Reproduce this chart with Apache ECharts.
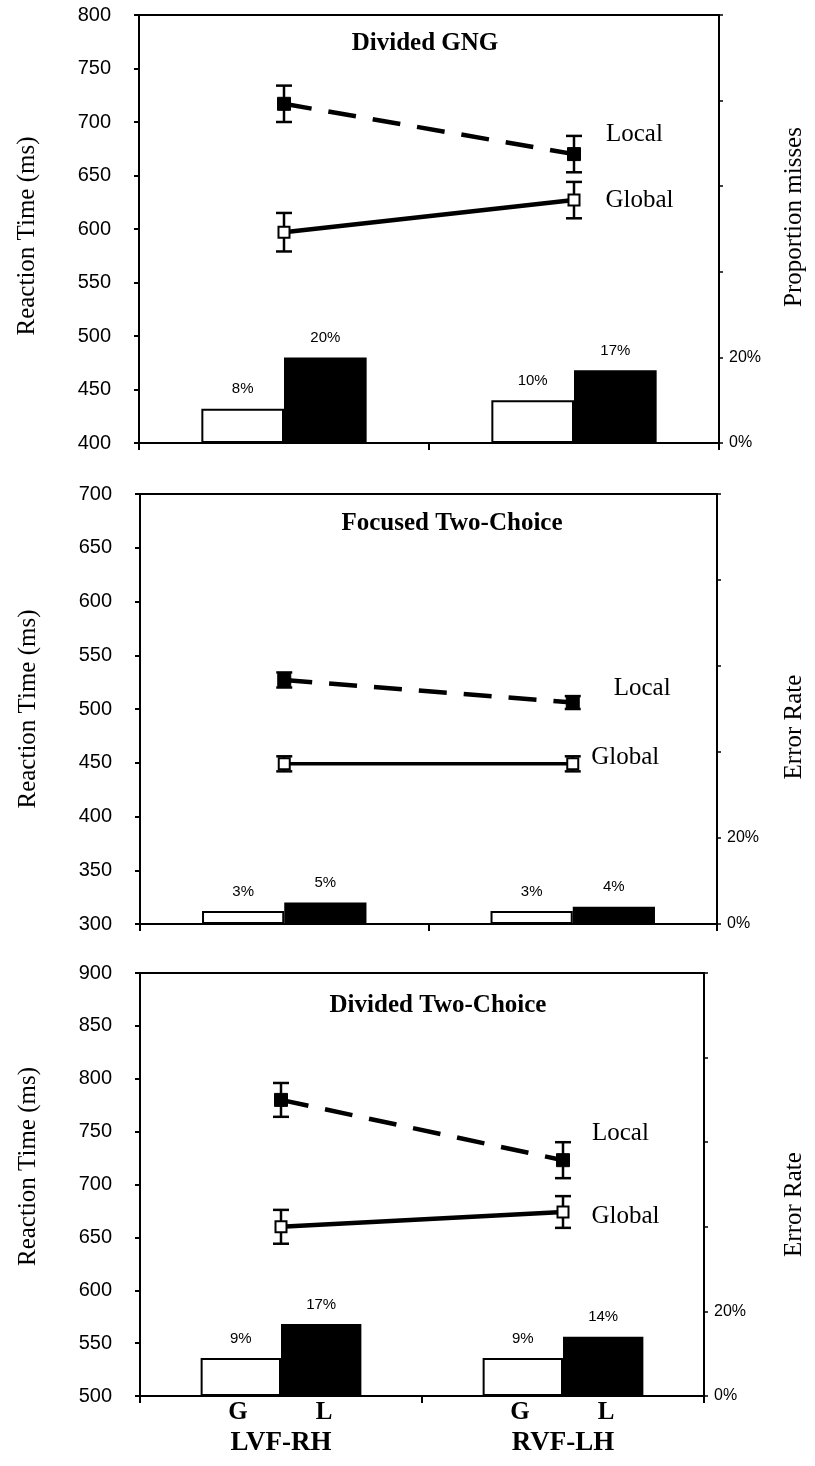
<!DOCTYPE html>
<html><head><meta charset="utf-8">
<script src="https://cdn.jsdelivr.net/npm/echarts@6/dist/echarts.min.js"></script>
<style>html,body{margin:0;padding:0;background:#fff}#c{width:815px;height:1466px}</style>
</head><body><div id="c"></div>
<script>
// ---------- data ----------
const panelTitles = ['Divided GNG', 'Focused Two-Choice', 'Divided Two-Choice'];
const categories = ['LVF-RH', 'RVF-LH'];
const levelLetters = ['G', 'L'];
const leftAxisName = 'Reaction Time (ms)';
const rightAxisNames = ['Proportion misses', 'Error Rate', 'Error Rate'];
const rtMin = [400, 300, 500];
const rtMax = [800, 700, 900];
const rtStep = 50;
const pctMax = 100;
const pctStep = 20;
const pctLabelled = [0, 20];
const seriesNames = ['Global', 'Local'];

// Divided GNG
const gngGlobalRT = [597, 627];
const gngGlobalSE = [18, 17];
const gngLocalRT = [717, 670];
const gngLocalSE = [17, 17];
const gngGlobalMiss = [8, 10];
const gngLocalMiss = [20, 17];
// Focused Two-Choice
const focGlobalRT = [449, 449];
const focGlobalSE = [7, 7];
const focLocalRT = [527, 506];
const focLocalSE = [7, 6];
const focGlobalErr = [3, 3];
const focLocalErr = [5, 4];
// Divided Two-Choice
const divGlobalRT = [660, 674];
const divGlobalSE = [16, 15];
const divLocalRT = [780, 723];
const divLocalSE = [16, 17];
const divGlobalErr = [9, 9];
const divLocalErr = [17, 14];

const panelData = [
  {gRT: gngGlobalRT, gSE: gngGlobalSE, lRT: gngLocalRT, lSE: gngLocalSE, gBar: gngGlobalMiss, lBar: gngLocalMiss},
  {gRT: focGlobalRT, gSE: focGlobalSE, lRT: focLocalRT, lSE: focLocalSE, gBar: focGlobalErr, lBar: focLocalErr},
  {gRT: divGlobalRT, gSE: divGlobalSE, lRT: divLocalRT, lSE: divLocalSE, gBar: divGlobalErr, lBar: divLocalErr}
];

// ---------- layout / style ----------
const SERIF = 'Liberation Serif';
const SANS = 'Liberation Sans';
const layout = [
  {left: 139, right: 93, top: 15, height: 428, titleX: 420, titleY: 26,
   lPad: [0, 14, 0, 0], rPad: [0, 0, 0, 24], rGap: 63,
   localLbl: {d: 25, dy: -20}, globalLbl: {d: 25, dy: 0}, solidW: 4.5},
  {left: 140, right: 88, top: 494, height: 430, titleX: 447, titleY: 506,
   lPad: [0, 0, 0, 0], rPad: [0, 36, 0, 0], rGap: 65,
   localLbl: {d: 34, dy: -14}, globalLbl: {d: 12, dy: -6}, solidW: 3.5},
  {left: 140, right: 101, top: 973, height: 423, titleX: 433, titleY: 988,
   lPad: [0, 0, 0, 36], rPad: [0, 40, 0, 0], rGap: 78,
   localLbl: {d: 22, dy: -27}, globalLbl: {d: 22, dy: 4}, solidW: 4.5}
];

function errRender(params, api) {
  const x = api.value(0), lo = api.value(1), hi = api.value(2);
  const a = api.coord([x, lo]), b = api.coord([x, hi]);
  const cap = 8;
  const st = {stroke: '#000', lineWidth: 2.5, fill: null};
  return {type: 'group', children: [
    {type: 'line', shape: {x1: a[0], y1: a[1], x2: b[0], y2: b[1]}, style: st},
    {type: 'line', shape: {x1: a[0] - cap, y1: a[1], x2: a[0] + cap, y2: a[1]}, style: st},
    {type: 'line', shape: {x1: b[0] - cap, y1: b[1], x2: b[0] + cap, y2: b[1]}, style: st}
  ]};
}

const grids = [], xAxes = [], yAxes = [], series = [], titles = [];
layout.forEach((L, i) => {
  const d = panelData[i];
  grids.push({left: L.left, right: L.right, top: L.top, height: L.height,
    show: true, borderColor: '#000', borderWidth: 2, backgroundColor: 'transparent', containLabel: false});
  titles.push({text: panelTitles[i], left: L.titleX, top: L.titleY, textAlign: 'center',
    textStyle: {fontFamily: SERIF, fontWeight: 'bold', fontSize: 25, color: '#000'}});
  const last = i === layout.length - 1;
  xAxes.push({type: 'category', gridIndex: i, data: categories, boundaryGap: true,
    axisLine: {show: true, lineStyle: {color: '#000', width: 2}},
    axisTick: {show: true, length: 7, lineStyle: {color: '#000', width: 2}},
    axisLabel: last ? {
      show: true, margin: 2, color: '#000',
      formatter: v => `{g|${levelLetters[0]}}{l|${levelLetters[1]}}\n{c|${v}}`,
      rich: {
        g: {width: 86, align: 'center', fontFamily: SERIF, fontWeight: 'bold', fontSize: 25, lineHeight: 30, color: '#000'},
        l: {width: 86, align: 'center', fontFamily: SERIF, fontWeight: 'bold', fontSize: 25, lineHeight: 30, color: '#000'},
        c: {width: 172, align: 'center', fontFamily: SERIF, fontWeight: 'bold', fontSize: 27, lineHeight: 30, color: '#000'}
      }
    } : {show: false},
    splitLine: {show: false}});
  yAxes.push({type: 'value', gridIndex: i, position: 'left', min: rtMin[i], max: rtMax[i], interval: rtStep,
    name: leftAxisName, nameLocation: 'middle', nameGap: 99, nameRotate: 90,
    nameTextStyle: {fontFamily: SERIF, fontSize: 25, color: '#000', padding: L.lPad},
    axisLine: {show: true, lineStyle: {color: '#000', width: 2}},
    axisTick: {show: true, length: 5, lineStyle: {color: '#000', width: 2}},
    axisLabel: {fontFamily: SANS, fontSize: 20, color: '#000', margin: 28},
    splitLine: {show: false}});
  yAxes.push({type: 'value', gridIndex: i, position: 'right', min: 0, max: pctMax, interval: pctStep,
    name: rightAxisNames[i], nameLocation: 'middle', nameGap: L.rGap, nameRotate: 90,
    nameTextStyle: {fontFamily: SERIF, fontSize: 25, color: '#000', padding: L.rPad},
    axisLine: {show: true, lineStyle: {color: '#000', width: 2}},
    axisTick: {show: true, length: 4, lineStyle: {color: '#000', width: 1.5}},
    axisLabel: {fontFamily: SANS, fontSize: 16, color: '#000', margin: 10,
      formatter: v => pctLabelled.includes(v) ? v + '%' : ''},
    splitLine: {show: false}});
  const barLabel = {show: true, position: 'top', distance: 12, formatter: '{c}%',
    fontFamily: SANS, fontSize: 15, color: '#000'};
  series.push({type: 'bar', name: seriesNames[0], xAxisIndex: i, yAxisIndex: 2 * i + 1, data: d.gBar,
    barWidth: '28.5%', barGap: '0%', z: 2,
    itemStyle: {color: '#fff', borderColor: '#000', borderWidth: 2}, label: barLabel});
  series.push({type: 'bar', name: seriesNames[1], xAxisIndex: i, yAxisIndex: 2 * i + 1, data: d.lBar,
    barWidth: '28.5%', barGap: '0%', z: 2,
    itemStyle: {color: '#000', borderColor: '#000', borderWidth: 2}, label: barLabel});
  series.push({type: 'custom', xAxisIndex: i, yAxisIndex: 2 * i, z: 3, renderItem: errRender,
    data: d.gRT.map((m, k) => [k, m - d.gSE[k], m + d.gSE[k]])});
  series.push({type: 'custom', xAxisIndex: i, yAxisIndex: 2 * i, z: 3, renderItem: errRender,
    data: d.lRT.map((m, k) => [k, m - d.lSE[k], m + d.lSE[k]])});
  const lblStyle = (o) => ({show: true, position: 'right', distance: o.d, offset: [0, o.dy],
    fontFamily: SERIF, fontSize: 25, color: '#000'});
  series.push({type: 'line', name: seriesNames[0], xAxisIndex: i, yAxisIndex: 2 * i, data: d.gRT, z: 5,
    symbol: 'rect', symbolSize: 11, showAllSymbol: true,
    itemStyle: {color: '#fff', borderColor: '#000', borderWidth: 2},
    lineStyle: {color: '#000', width: L.solidW, type: 'solid'},
    label: Object.assign(lblStyle(L.globalLbl), {formatter: p => p.dataIndex === d.gRT.length - 1 ? seriesNames[0] : ''})});
  series.push({type: 'line', name: seriesNames[1], xAxisIndex: i, yAxisIndex: 2 * i, data: d.lRT, z: 5,
    symbol: 'rect', symbolSize: 13, showAllSymbol: true,
    itemStyle: {color: '#000', borderColor: '#000', borderWidth: 1},
    lineStyle: {color: '#000', width: 4.5, type: [28, 17], cap: 'butt'},
    label: Object.assign(lblStyle(L.localLbl), {formatter: p => p.dataIndex === d.lRT.length - 1 ? seriesNames[1] : ''})});
});

const chart = echarts.init(document.getElementById('c'), null, {renderer: 'canvas'});
chart.setOption({
  animation: false,
  backgroundColor: '#fff',
  title: titles,
  grid: grids,
  xAxis: xAxes,
  yAxis: yAxes,
  series: series
});
</script>
</body></html>
